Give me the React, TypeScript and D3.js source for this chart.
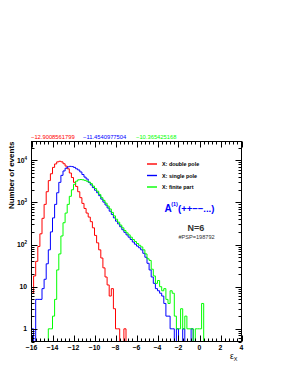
import React from "react";
import * as d3 from "d3";

// bin centres from -15.9 to 3.9 (width 0.2)
const binLo = -16;
const binWidth = 0.2;

const doublePole = [
  7, 18, 40, 90, 180, 420, 900, 1800, 3300, 4800,
  6800, 8200, 9200, 9500, 9200, 8300, 7300, 6300, 5000, 3900,
  3000, 2400, 1800, 1300, 950, 720, 560, 450, 350, 250,
  165, 110, 75, 48, 28, 17, 11, 6, 9, 3,
  1, 1, 0, 0, 1, 0, 0, 0, 0, 0,
  0, 0, 0, 0, 0, 0, 0, 0, 0, 0,
  0, 0, 0, 0, 0, 0, 0, 0, 0, 0,
  0, 0, 0, 0, 0, 0, 0, 0, 0, 0,
  0, 0, 0, 0, 0, 0, 0, 0, 0, 0,
  0, 0, 0, 0, 0, 0, 0, 0, 0, 0,
];

const singlePole = [
  1, 0, 5, 5, 5, 9, 15, 35, 75, 200,
  430, 900, 1700, 3000, 4400, 5600, 6500, 7000, 7200, 7100,
  6800, 6300, 5900, 5300, 4600, 4000, 3600, 3000, 2600, 2250,
  1950, 1700, 1450, 1200, 1020, 870, 740, 620, 520, 430,
  360, 310, 265, 225, 195, 170, 150, 132, 115, 102,
  92, 84, 75, 62, 50, 36, 25, 17, 12, 9,
  8, 7, 6, 4, 2, 2, 1, 1, 0, 1,
  0, 0, 1, 0, 0, 0, 1, 0, 0, 0,
  0, 0, 0, 0, 0, 0, 0, 0, 0, 0,
  0, 0, 0, 0, 0, 0, 0, 0, 0, 0,
];

const finitePart = [
  0, 0, 0, 0, 0, 0, 0, 0, 1, 1,
  2, 5, 25, 60, 160, 330, 560, 900, 1400, 2000,
  2700, 3200, 3450, 3500, 3450, 3350, 3200, 3050, 2800, 2450,
  2150, 1850, 1550, 1300, 1120, 960, 820, 700, 580, 480,
  400, 340, 290, 250, 215, 190, 170, 150, 132, 118,
  106, 96, 88, 75, 60, 46, 42, 26, 18, 12,
  14, 10, 8, 9, 5, 4, 8, 7, 2, 1,
  1, 3, 1, 2, 1, 1, 1, 0, 1, 1,
  1, 4, 0, 0, 0, 0, 0, 0, 0, 0,
  0, 0, 0, 0, 0, 0, 0, 0, 0, 0,
];

const seriesNames = ["X: double pole", "X: single pole", "X: finite part"];
const seriesColors = ["#ff0000", "#0000ff", "#00ff00"];
const meanLabels = ["\u221212.9008561799", "\u221211.4540977504", "\u221210.365425168"];
const xTicks = [-16, -14, -12, -10, -8, -6, -4, -2, 0, 2, 4];
const yDecades = [1, 10, 100, 1000, 10000];

const W = 283;
const H = 366;
const L = 31.5, R = 241.5, T = 141.5, B = 341.5;

export default function App() {
  const x = d3.scaleLinear().domain([-16, 4]).range([L, R]);
  const y = d3.scaleLog().domain([0.5, 28000]).range([B, T]).clamp(true);
  const font = "'Liberation Sans', Arial, Helvetica, sans-serif";

  const stepPath = (vals: number[]) => {
    const yy = (v: number) => (v > 0 ? y(v) : B);
    let p = `M${x(binLo)},${B}`;
    vals.forEach((v, i) => {
      const x0 = x(binLo + i * binWidth);
      const x1 = x(binLo + (i + 1) * binWidth);
      p += `L${x0},${yy(v)}L${x1},${yy(v)}`;
    });
    p += `L${x(binLo + vals.length * binWidth)},${B}`;
    return p;
  };

  const allSeries = [doublePole, singlePole, finitePart];

  const xMinor = d3.range(-16, 4.0001, 0.4);
  const yMinor: number[] = [];
  [0.1, 1, 10, 100, 1000, 10000].forEach((d) => {
    for (let k = 2; k <= 9; k++) {
      const v = d * k;
      if (v >= 0.5 && v <= 28000) yMinor.push(v);
    }
  });

  const supLabel = (v: number) => {
    const e = Math.round(Math.log10(v));
    if (e === 0) return <tspan>1</tspan>;
    if (e === 1) return <tspan>10</tspan>;
    return (
      <>
        <tspan>10</tspan>
        <tspan fontSize={4.5} dy={-3.2}>{e}</tspan>
      </>
    );
  };

  return (
    <svg
      width={W}
      height={H}
      style={{ position: "absolute", left: 0, top: 0, background: "#fff" }}
      fontFamily={font}
    >
      <rect x={0} y={0} width={W} height={H} fill="#fff" />

      {/* histograms */}
      {allSeries.map((s, i) => (
        <path key={i} d={stepPath(s)} fill="none" stroke={seriesColors[i]} strokeWidth={1} />
      ))}

      {/* frame */}
      <rect x={L} y={T} width={R - L} height={B - T} fill="none" stroke="#000" strokeWidth={1} />

      {/* x ticks bottom & top */}
      {xMinor.map((v, i) => {
        const major = Math.abs(v / 2 - Math.round(v / 2)) < 1e-6;
        const len = major ? 6 : 3;
        const xx = Math.round(x(v)) + 0.5;
        return (
          <g key={"xt" + i} stroke="#000" strokeWidth={1}>
            <line x1={xx} x2={xx} y1={B} y2={B - len} />
            <line x1={xx} x2={xx} y1={T} y2={T + len} />
          </g>
        );
      })}

      {/* y ticks left & right */}
      {yDecades.map((v, i) => {
        const yy = Math.round(y(v)) + 0.5;
        return (
          <g key={"yd" + i} stroke="#000" strokeWidth={1}>
            <line x1={L} x2={L + 6} y1={yy} y2={yy} />
            <line x1={R} x2={R - 6} y1={yy} y2={yy} />
          </g>
        );
      })}
      {yMinor.map((v, i) => {
        const yy = Math.round(y(v)) + 0.5;
        return (
          <g key={"ym" + i} stroke="#000" strokeWidth={1}>
            <line x1={L} x2={L + 3} y1={yy} y2={yy} />
            <line x1={R} x2={R - 3} y1={yy} y2={yy} />
          </g>
        );
      })}

      {/* x tick labels */}
      {xTicks.map((v) => (
        <text
          key={"xl" + v}
          x={x(v)}
          y={349.5}
          fontSize={6.8}
          fontWeight="bold"
          textAnchor="middle"
          fill="#000"
        >
          {v < 0 ? "\u2212" + Math.abs(v) : String(v)}
        </text>
      ))}

      {/* y tick labels */}
      {yDecades.map((v) => (
        <text
          key={"yl" + v}
          x={27}
          y={y(v) + 2.4}
          fontSize={6.8}
          fontWeight="bold"
          textAnchor="end"
          fill="#000"
        >
          {supLabel(v)}
        </text>
      ))}

      {/* axis titles */}
      <text
        transform={`translate(13.5,${T}) rotate(-90)`}
        fontSize={8}
        fontWeight="bold"
        textAnchor="end"
        fill="#000"
      >
        Number of events
      </text>
      <text x={230} y={359} fontSize={8.5} fill="#000">
        <tspan>ε</tspan>
        <tspan fontSize={5.5} dy={1.8}>X</tspan>
      </text>

      {/* mean labels above frame */}
      {meanLabels.map((m, i) => (
        <text
          key={"m" + i}
          x={[31, 83, 136][i]}
          y={139}
          fontSize={5.8}
          fill={seriesColors[i]}
        >
          {m}
        </text>
      ))}

      {/* legend */}
      {seriesNames.map((n, i) => {
        const ly = [164, 175.5, 187][i];
        return (
          <g key={"lg" + i}>
            <line x1={147} x2={157} y1={ly} y2={ly} stroke={seriesColors[i]} strokeWidth={1.4} />
            <text x={162} y={ly + 2} fontSize={5.4} fontWeight="bold" fill="#000">
              {n}
            </text>
          </g>
        );
      })}

      {/* annotations */}
      <text x={164.5} y={212} fontSize={10} fontWeight="bold" fill="#0000ff">
        <tspan>A</tspan>
        <tspan fontSize={5.5} dy={-6} dx={-0.5}>(1)</tspan>
        <tspan fontSize={9.5} dy={6}>(++−−...)</tspan>
      </text>
      <text x={196} y={231} fontSize={9} fontWeight="bold" textAnchor="middle" fill="#333">
        N=6
      </text>
      <text x={196.5} y={239} fontSize={5.6} textAnchor="middle" fill="#333">
        #PSP=198792
      </text>
    </svg>
  );
}
